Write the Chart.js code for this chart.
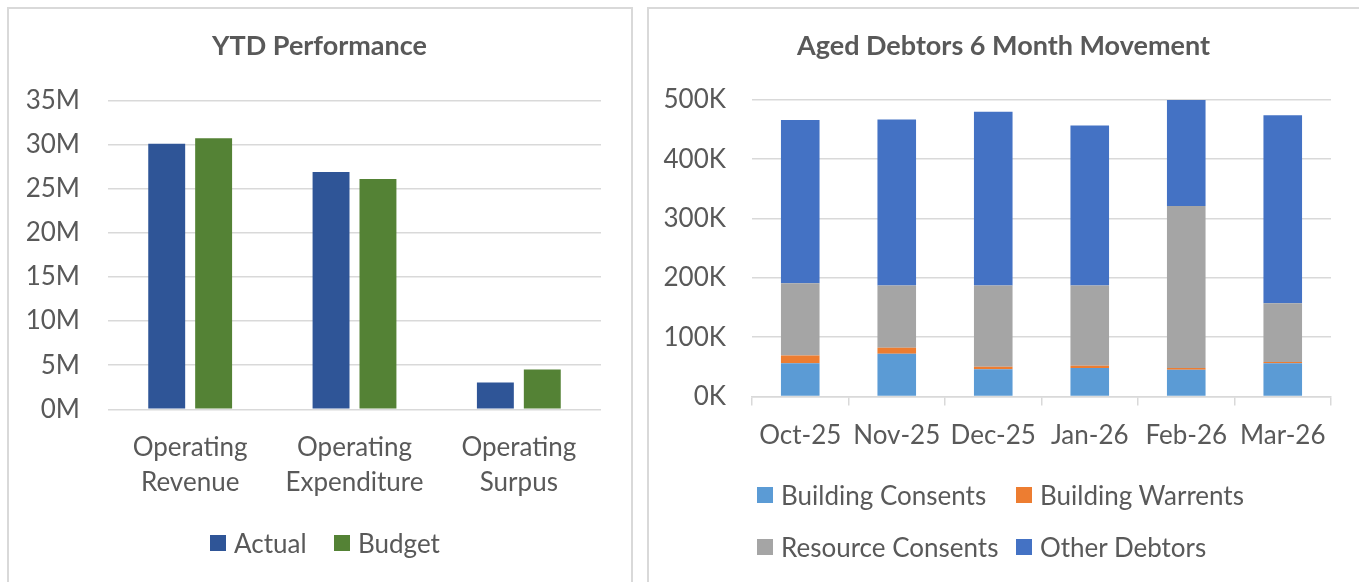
<!DOCTYPE html>
<html>
<head>
<meta charset="utf-8">
<script src="https://cdn.jsdelivr.net/npm/chart.js@4.4.0/dist/chart.umd.min.js"></script>
<style>
  body { margin: 0; background: #fff; width: 1359px; height: 582px; overflow: hidden; position: relative; font-family: Lato, "Open Sans", sans-serif; }
  .panel { position: absolute; border: 2px solid #d9d9d9; box-sizing: border-box; }
  canvas { position: absolute; }
  .legend { position: absolute; display: grid; color: #595959; font-size: 26px; }
  .item { display: flex; align-items: center; height: 30px; white-space: nowrap; }
  .box { width: 16px; height: 16px; margin-right: 8px; }
</style>
</head>
<body>
<div class="panel" style="left:7px;top:7px;width:626px;height:590px"></div>
<div class="panel" style="left:647px;top:7px;width:730px;height:590px"></div>
<canvas id="ytd" width="625" height="582" style="left:7px;top:0"></canvas>
<canvas id="debtors" width="711" height="582" style="left:648px;top:0"></canvas>
<div class="legend" id="ytd-legend" style="left:210px;top:528px;grid-template-columns:124px 120px"></div>
<div class="legend" id="debtors-legend" style="left:757px;top:480px;grid-template-columns:259px 260px;row-gap:22px"></div>
<script>
// YTD Performance
const ytdCategories = [["Operating", "Revenue"], ["Operating", "Expenditure"], ["Operating", "Surpus"]];
const actual = [30100000, 26900000, 3050000];
const budget = [30700000, 26100000, 4500000];

// Aged Debtors 6 Month Movement
const months = ["Oct-25", "Nov-25", "Dec-25", "Jan-26", "Feb-26", "Mar-26"];
const buildingConsents = [56000, 72000, 46000, 48000, 45000, 56000];
const buildingWarrents = [13000, 10000, 4000, 4000, 3000, 2000];
const resourceConsents = [122000, 105000, 137000, 135000, 273000, 99000];
const otherDebtors = [275000, 280000, 293000, 270000, 179000, 317000];

const textColor = "#595959";
const gridColor = "#d9d9d9";
const font = { family: "Lato, 'Open Sans', sans-serif", size: 26 };
const titleFont = { family: "Lato, 'Open Sans', sans-serif", size: 27, weight: "bold" };

Chart.defaults.color = textColor;
Chart.defaults.animation = false;

function buildLegend(id, datasets) {
  const el = document.getElementById(id);
  datasets.forEach((ds) => {
    const item = document.createElement("div");
    item.className = "item";
    item.innerHTML = `<span class="box" style="background:${ds.backgroundColor}"></span>${ds.label}`;
    el.appendChild(item);
  });
}

// empty axis on the right so the title stays centred on the whole canvas
function spacerAxis(width) {
  return {
    position: "right",
    grid: { display: false },
    border: { display: false },
    ticks: { display: false },
    afterFit: (s) => { s.width = width; },
  };
}

const ytdDatasets = [
  { label: "Actual", data: actual, backgroundColor: "#2f5597" },
  { label: "Budget", data: budget, backgroundColor: "#548235" },
];

new Chart(document.getElementById("ytd"), {
  type: "bar",
  data: {
    labels: ytdCategories,
    datasets: ytdDatasets.map((d) => ({ ...d, categoryPercentage: 0.571, barPercentage: 0.787 })),
  },
  options: {
    responsive: false,
    layout: { padding: { top: 0, right: 0, bottom: 72.7, left: 0 } },
    plugins: {
      legend: { display: false },
      tooltip: { enabled: false },
      title: {
        display: true,
        text: "YTD Performance",
        color: textColor,
        font: titleFont,
        padding: { top: 30.5, bottom: 37.5 },
      },
    },
    scales: {
      x: {
        grid: { display: false, drawTicks: false },
        border: { display: false },
        ticks: { font: { ...font, lineHeight: 1.35 }, padding: 21, maxRotation: 0 },
        afterFit: (s) => { s.height = 100; },
      },
      y: {
        min: 0,
        max: 35000000,
        grid: { color: gridColor, lineWidth: 1.5, drawTicks: false },
        border: { display: false },
        ticks: {
          stepSize: 5000000,
          font: font,
          padding: 28,
          callback: (v) => v / 1000000 + "M",
        },
        afterFit: (s) => { s.width = 101; },
      },
      spacer: spacerAxis(31),
    },
  },
});
buildLegend("ytd-legend", ytdDatasets);

const debtorDatasets = [
  { label: "Building Consents", data: buildingConsents, backgroundColor: "#5b9bd5" },
  { label: "Building Warrents", data: buildingWarrents, backgroundColor: "#ed7d31" },
  { label: "Resource Consents", data: resourceConsents, backgroundColor: "#a5a5a5" },
  { label: "Other Debtors", data: otherDebtors, backgroundColor: "#4472c4" },
];

new Chart(document.getElementById("debtors"), {
  type: "bar",
  data: {
    labels: months,
    datasets: debtorDatasets.map((d) => ({ ...d, categoryPercentage: 0.4, barPercentage: 1 })),
  },
  options: {
    responsive: false,
    layout: { padding: { top: 0, right: 0, bottom: 125.5, left: 0 } },
    plugins: {
      legend: { display: false },
      tooltip: { enabled: false },
      title: {
        display: true,
        text: "Aged Debtors 6 Month Movement",
        color: textColor,
        font: titleFont,
        padding: { top: 30.5, bottom: 37 },
      },
    },
    scales: {
      x: {
        stacked: true,
        grid: { color: gridColor, lineWidth: 1.5, drawOnChartArea: false, tickLength: 9 },
        border: { color: gridColor, width: 1.5 },
        ticks: { font: { ...font, lineHeight: 1.35 }, padding: 13, maxRotation: 0 },
        afterFit: (s) => { s.height = 60; },
      },
      y: {
        stacked: true,
        min: 0,
        max: 500000,
        grid: { color: gridColor, lineWidth: 1.5, drawTicks: false },
        border: { display: false },
        ticks: {
          stepSize: 100000,
          font: font,
          padding: 26,
          callback: (v) => v / 1000 + "K",
        },
        afterFit: (s) => { s.width = 104; },
      },
      spacer: spacerAxis(28),
    },
  },
});
buildLegend("debtors-legend", debtorDatasets);
</script>
</body>
</html>
